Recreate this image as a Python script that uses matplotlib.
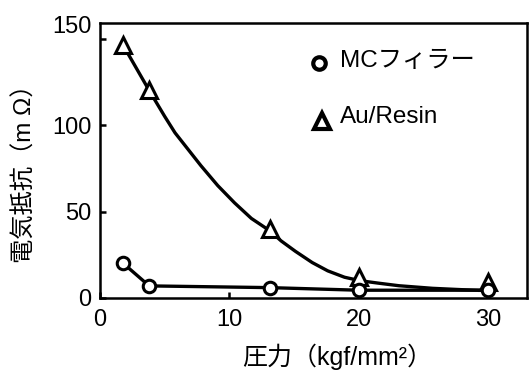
import numpy as np
import matplotlib
matplotlib.use("Agg")
import matplotlib.pyplot as plt
import matplotlib.transforms as mtransforms

plt.rcParams['font.family'] = ['Liberation Sans', 'Noto Sans CJK JP', 'DejaVu Sans']

# measured points
pressure = [1.8, 3.8, 13.1, 20, 30]
mc_filler = [20, 7, 6, 4.5, 4.5]
au_resin = [146, 120, 40, 12, 9]

# fitted curve through the Au/Resin points
au_curve_x = [1.8, 2.8, 3.8, 4.2, 5.0, 5.8, 6.8, 7.8, 9.1, 10.4, 11.7, 13.1,
              14.0, 15.1, 16.4, 17.6, 18.9, 20.1, 21.5, 23.1, 25.7, 28.0, 30.0]
au_curve_y = [146, 133, 120, 115, 105, 95.5, 86, 76.5, 65, 55, 46, 39,
              33, 27, 20.5, 15.7, 12, 10, 8.6, 7.1, 5.6, 4.8, 4.3]

y_ticks = [0, 50, 100, 150]
x_ticks = [0, 10, 20, 30]

FS = 17

fig = plt.figure(figsize=(5.3, 3.71), dpi=100)
ax = fig.add_axes([100 / 530, 1 - 298 / 371, 427 / 530, 275 / 371])

ax.plot(au_curve_x, au_curve_y, color='black', lw=2.4, zorder=2,
        solid_joinstyle='round')
ax.plot(pressure, mc_filler, color='black', lw=2.4, zorder=2)
ax.plot(pressure, au_resin, ls='none', marker='^', ms=12, mew=2.2,
        mfc='white', mec='black', zorder=3, clip_on=False)
ax.plot(pressure, mc_filler, ls='none', marker='o', ms=9, mew=2.2,
        mfc='white', mec='black', zorder=3, clip_on=False)

ax.set_xlim(0, 33)
ax.set_ylim(0, 159)
ax.set_xticks(x_ticks)
ax.set_yticks(y_ticks)
ax.tick_params(direction='in', length=4, width=1.8, labelsize=FS)
ax.tick_params(axis='x', pad=8)
ax.tick_params(axis='y', pad=6)
for s in ax.spines.values():
    s.set_linewidth(1.8)

# the 150 label sits at the top of the frame in the original
lab = ax.get_yticklabels()[-1]
lab.set_transform(lab.get_transform() + mtransforms.ScaledTranslation(0, 14 / 100, fig.dpi_scale_trans))

# legend
ax.plot([0.512], [0.855], transform=ax.transAxes, marker='o', ms=9, mew=3,
        mfc='white', mec='black', ls='none', clip_on=False)
ax.text(0.562, 0.862, 'MCフィラー', transform=ax.transAxes, fontsize=17.5, va='center')
ax.plot([0.519], [0.645], transform=ax.transAxes, marker='^', ms=12, mew=3,
        mfc='white', mec='black', ls='none', clip_on=False)
ax.text(0.562, 0.657, 'Au/Resin', transform=ax.transAxes, fontsize=17.5, va='center')

fig.text(25 / 530, 1 - 168 / 371, '電気抵抗（m Ω）', rotation=90, fontsize=17.5,
         ha='center', va='center')
fig.text(337 / 530, 1 - 357 / 371, '圧力（kgf/mm²）', fontsize=18,
         ha='center', va='center')

fig.savefig('out.png', dpi=100)
